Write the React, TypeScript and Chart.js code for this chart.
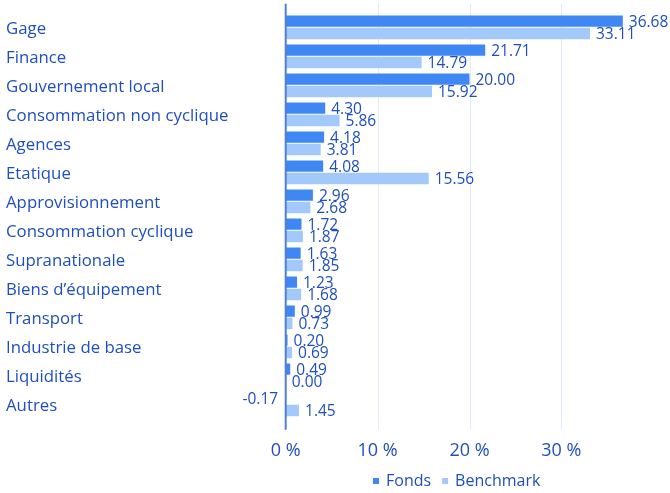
import React, { useEffect, useRef } from "react";
import { Chart, registerables } from "chart.js";

Chart.register(...registerables);

const categories = [
  "Gage",
  "Finance",
  "Gouvernement local",
  "Consommation non cyclique",
  "Agences",
  "Etatique",
  "Approvisionnement",
  "Consommation cyclique",
  "Supranationale",
  "Biens d’équipement",
  "Transport",
  "Industrie de base",
  "Liquidités",
  "Autres",
];
const fondsValues = [36.68, 21.71, 20.0, 4.3, 4.18, 4.08, 2.96, 1.72, 1.63, 1.23, 0.99, 0.2, 0.49, -0.17];
const benchmarkValues = [33.11, 14.79, 15.92, 5.86, 3.81, 15.56, 2.68, 1.87, 1.85, 1.68, 0.73, 0.69, 0.0, 1.45];
const xTickValues = [0, 10, 20, 30];
const seriesNames = ["Fonds", "Benchmark"];

const FONT = "'Open Sans', 'Noto Sans', sans-serif";
const TEXT = "#1f4fbf";
const FONDS_COLOR = "#3f87f2";
const BENCH_COLOR = "#a3c9fb";
const GRID_COLOR = "#dfeafb";
const ZERO_COLOR = "#4f7fd8";

export default function App() {
  const ref = useRef<HTMLCanvasElement>(null);

  useEffect(() => {
    document.body.style.margin = "0";
    if (!ref.current) return;

    const gridPlugin = {
      id: "extGrid",
      beforeDatasetsDraw(chart: any) {
        const { ctx, chartArea } = chart;
        const xs = chart.scales.x;
        ctx.save();
        xTickValues.forEach((v) => {
          if (v === 0) return;
          const px = Math.round(xs.getPixelForValue(v)) + 0.5;
          ctx.beginPath();
          ctx.strokeStyle = GRID_COLOR;
          ctx.lineWidth = 1;
          ctx.moveTo(px, chartArea.top - 9);
          ctx.lineTo(px, chartArea.bottom + 11);
          ctx.stroke();
        });
        ctx.restore();
      },
      afterDatasetsDraw(chart: any) {
        const { ctx, chartArea } = chart;
        const xs = chart.scales.x;
        ctx.save();
        const px = xs.getPixelForValue(0);
        ctx.beginPath();
        ctx.strokeStyle = ZERO_COLOR;
        ctx.lineWidth = 2;
        ctx.moveTo(px, chartArea.top - 9);
        ctx.lineTo(px, chartArea.bottom + 11);
        ctx.stroke();

        ctx.font = `15.5px ${FONT}`;
        ctx.fillStyle = TEXT;
        ctx.textBaseline = "middle";
        chart.data.datasets.forEach((ds: any, di: number) => {
          const meta = chart.getDatasetMeta(di);
          meta.data.forEach((el: any, i: number) => {
            const v = ds.data[i] as number;
            const { x, y } = el.getProps(["x", "y"], true);
            if (v < 0) {
              ctx.textAlign = "right";
              ctx.fillText(v.toFixed(2), x - 6, y + 1);
            } else {
              ctx.textAlign = "left";
              ctx.fillText(v.toFixed(2), x + 6, y + 1);
            }
          });
        });
        ctx.restore();
      },
      afterDraw(chart: any) {
        const { ctx } = chart;
        ctx.save();
        ctx.font = `16px ${FONT}`;
        ctx.textBaseline = "middle";
        ctx.textAlign = "left";
        let x = 373;
        const y = 481;
        const colors = [FONDS_COLOR, BENCH_COLOR];
        seriesNames.forEach((name, i) => {
          ctx.fillStyle = colors[i];
          ctx.fillRect(x, y - 3, 6, 6);
          x += 13;
          ctx.fillStyle = TEXT;
          ctx.fillText(name, x, y);
          x += ctx.measureText(name).width + 11;
        });
        ctx.restore();
      },
    };

    const chart = new Chart(ref.current, {
      type: "bar",
      data: {
        labels: categories,
        datasets: [
          {
            label: seriesNames[0],
            data: fondsValues,
            backgroundColor: FONDS_COLOR,
            categoryPercentage: 0.85,
            barPercentage: 0.93,
            clip: 0 as any,
          },
          {
            label: seriesNames[1],
            data: benchmarkValues,
            backgroundColor: BENCH_COLOR,
            categoryPercentage: 0.85,
            barPercentage: 0.93,
            clip: 0 as any,
          },
        ],
      },
      options: {
        indexAxis: "y",
        animation: false,
        responsive: true,
        maintainAspectRatio: false,
        layout: { padding: { left: 6, top: 12.8, right: 16.7, bottom: 0 } },
        plugins: {
          legend: { display: false },
          tooltip: { enabled: false },
        },
        scales: {
          x: {
            min: 0,
            max: 40,
            grid: { display: false, drawTicks: false },
            border: { display: false },
            afterBuildTicks(scale: any) {
              scale.ticks = xTickValues.map((v) => ({ value: v }));
            },
            afterFit(scale: any) {
              scale.height = 74.2;
            },
            ticks: {
              padding: 21,
              color: TEXT,
              font: { family: FONT, size: 18 },
              callback: (v: any) => `${v} %`,
            },
          },
          y: {
            grid: { display: false, drawTicks: false },
            border: { display: false },
            afterFit(scale: any) {
              scale.width = 279.7;
            },
            ticks: {
              autoSkip: false,
              crossAlign: "far",
              padding: 0,
              labelOffset: 2,
              color: TEXT,
              font: { family: FONT, size: 16.8 },
            },
          },
        },
      },
      plugins: [gridPlugin],
    });

    return () => chart.destroy();
  }, []);

  return (
    <div style={{ width: 670, height: 493, position: "relative" }}>
      <canvas ref={ref} />
    </div>
  );
}
